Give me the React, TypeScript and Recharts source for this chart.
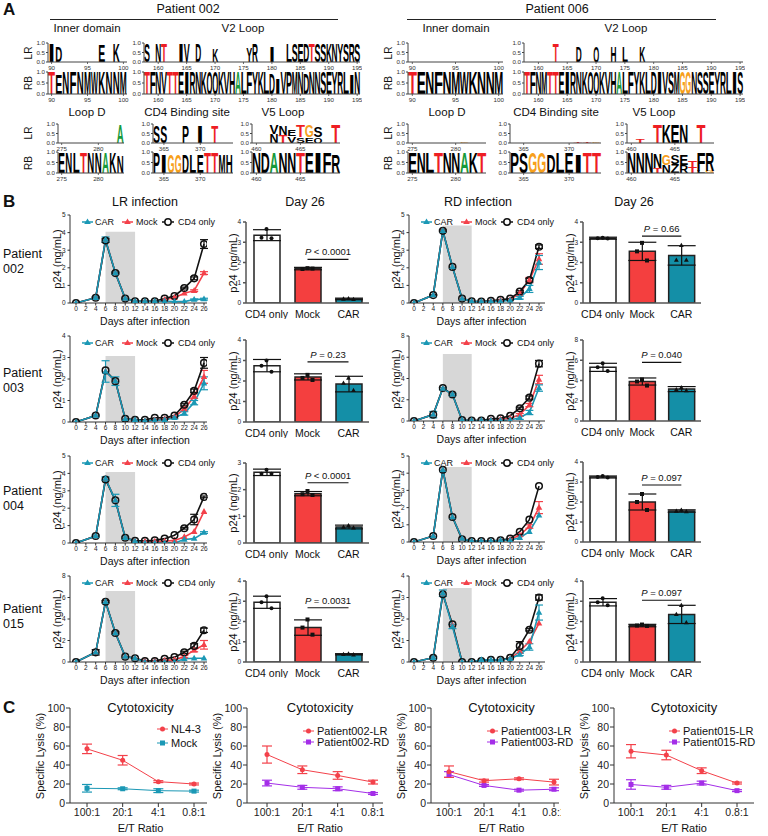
import React from "react";
import {
  BarChart,
  Bar,
  LineChart,
  Line,
  ComposedChart,
  XAxis,
  YAxis,
  ErrorBar,
  ReferenceArea,
  ReferenceLine,
  Cell,
} from "recharts";

const FONT = "Arial, 'Liberation Sans', Helvetica, sans-serif";
const TEAL = "#1b98b5";
const RED = "#f3414a";
const PURPLE = "#a42ee8";
const INK = "#111";
const AXIS = "#444";

// ---------- A: sequence logos (one letter + height per position) ----------
const in002LR = "ID     E K ";
const in002LRh = [0.95, 0.85, 0, 0, 0, 0, 0, 0.9, 0, 0.95, 0];
const in002RB = "TENFNMWKNNM";
const in002RBh = [1, 0.92, 1, 1, 1, 1, 1, 1, 1, 1, 1];
const in006LR = "           ";
const in006LRh = [0, 0, 0, 0, 0, 0, 0, 0, 0, 0, 0];
const in006RB = "TENFNMWKNNM";
const in006RBh = [1, 1, 1, 1, 1, 1, 1, 1, 1, 1, 1];

const v2002LR = "S NT  IV D  K     YR  I  LSEDTSSKNYSRS";
const v2002LRh = [0.95, 0, 0.95, 0.95, 0, 0, 0.95, 0.95, 0, 0.95, 0, 0, 0.7, 0, 0, 0, 0, 0, 0.75, 0.95, 0, 0, 0.85, 0, 0, 0.95, 0.95, 0.95, 0.95, 0.95, 0.95, 0.95, 0.95, 0.95, 0.95, 0.95, 0.95, 0.95];
const v2002RB = "TFNVTTEIRNKQQKVHALFYKLDIVPMNDNNSEYRLIN";
const v2002RBh = [1, 1, 1, 1, 1, 1, 1, 1, 1, 1, 1, 1, 1, 1, 1, 1, 1, 1, 1, 1, 1, 1, 0.95, 0.7, 1, 1, 1, 1, 0.95, 1, 1, 1, 1, 1, 1, 1, 0.9, 1];
const v2006LR = "     T   D  Q  H L  K                 ";
const v2006LRh = [0, 0, 0, 0, 0, 1, 0, 0, 0, 0.8, 0, 0, 0.8, 0, 0, 0.8, 0, 0.8, 0, 0, 0.8, 0, 0, 0, 0, 0, 0, 0, 0, 0, 0, 0, 0, 0, 0, 0, 0, 0];
const v2006RB = "TFNMTTEIRNKQQKVHALFYKLDIVSMGGNSSEYRLIS";
const v2006RBh = [1, 1, 1, 1, 1, 1, 1, 1, 1, 1, 1, 1, 1, 1, 1, 1, 1, 1, 1, 1, 1, 1, 1, 1, 1, 1, 1, 1, 1, 1, 1, 1, 1, 1, 1, 1, 1, 1];

const ld002LR = "        A";
const ld002LRh = [0, 0, 0, 0, 0, 0.04, 0, 0, 0.95];
const ld002RB = "ENLTNNAKN";
const ld002RBh = [1, 1, 1, 1, 1, 1, 1, 1, 0.8];
const ld006LR = "      G  ";
const ld006LRh = [0, 0, 0, 0, 0, 0, 0.03, 0, 0];
const ld006RB = "ENLTNNAKT";
const ld006RBh = [1, 1, 1, 1, 1, 1, 1, 1, 1];

const cd002LR = "SS  P I T  ";
const cd002LRh = [0.9, 0.9, 0, 0, 0.9, 0, 0.9, 0, 0.9, 0, 0];
const cd002RB = "PIGGDLETTMH";
const cd002RBh = [1, 0.85, 0.9, 0.9, 0.85, 0.9, 0.9, 1, 1, 0.85, 0.9];
const cd006LR = "       TTG";
const cd006LRh = [0, 0, 0, 0, 0, 0, 0, 0.05, 0.05, 0.04];
const cd006RB = "PSGGDLEITT";
const cd006RBh = [1, 1, 1, 1, 0.9, 1, 1, 0.9, 1, 1];

const v5002LR = "  VNETGS T";
const v5002LRh = [0, 0, 0.5, 0.5, 0.35, 0.6, 0.6, 0.55, 0, 1];
const v5002LRsub = "  NTVSEQ  ";
const v5002LRsubh = [0, 0, 0.45, 0.4, 0.35, 0.3, 0.3, 0.3, 0, 0];
const v5002RB = "NDANNTEIFR";
const v5002RBh = [1, 1, 1, 1, 1, 1, 1, 1, 1, 0.9];
const v5006LR = " T TKEN T ";
const v5006LRh = [0, 0.2, 0, 1, 1, 1, 1, 0, 1, 0];
const v5006RB = "NNNNGSETFR";
const v5006RBh = [1, 1, 1, 0.7, 0.5, 0.45, 0.5, 0.3, 0.85, 0.85];
const v5006RBsub = "   TNZRTLG";
const v5006RBsubh = [0, 0, 0, 0.25, 0.4, 0.45, 0.4, 0.3, 0.1, 0.1];

// ---------- B: p24 time courses ----------
const DAYS = [0, 4, 6, 8, 10, 12, 14, 16, 18, 20, 22, 24, 26];
const DAY_TICKS = [0, 2, 4, 6, 8, 10, 12, 14, 16, 18, 20, 22, 24, 26];
const NO_ERR = [0, 0, 0, 0, 0, 0, 0, 0, 0, 0, 0, 0, 0];

const lr002Car = [0, 0.3, 3.6, 1.7, 0.25, 0.1, 0.1, 0.1, 0.1, 0.08, 0.08, 0.2, 0.22];
const lr002CarE = [0, 0.05, 0.15, 0.05, 0.03, 0, 0, 0, 0, 0, 0, 0.03, 0.05];
const lr002Mock = [0, 0.3, 3.6, 1.7, 0.25, 0.1, 0.1, 0.1, 0.2, 0.3, 0.55, 0.7, 1.7];
const lr002MockE = [0, 0, 0, 0, 0, 0, 0, 0, 0, 0, 0, 0.05, 0.08];
const lr002Cd4 = [0, 0.3, 3.55, 1.7, 0.25, 0.1, 0.1, 0.1, 0.25, 0.4, 0.85, 1.4, 3.35];
const lr002Cd4E = [0, 0.03, 0.1, 0.05, 0, 0, 0, 0, 0, 0, 0.05, 0.08, 0.25];

const rd002Car = [0, 0.45, 4.1, 2.05, 0.25, 0.1, 0.08, 0.1, 0.1, 0.15, 0.3, 0.8, 2.3];
const rd002CarE = [0, 0, 0, 0, 0, 0, 0, 0, 0, 0, 0.08, 0.2, 0.4];
const rd002Mock = [0, 0.45, 4.1, 2.05, 0.25, 0.1, 0.08, 0.12, 0.15, 0.2, 0.55, 1.3, 2.5];
const rd002MockE = [0, 0, 0, 0, 0, 0, 0, 0, 0, 0, 0.05, 0.15, 0.3];
const rd002Cd4 = [0, 0.45, 4.1, 2.05, 0.25, 0.1, 0.08, 0.12, 0.18, 0.25, 0.65, 1.3, 3.2];
const rd002Cd4E = [0, 0.03, 0.05, 0, 0, 0, 0, 0, 0, 0, 0.05, 0.1, 0.1];

const lr003Car = [0, 0.3, 2.35, 1.9, 0.15, 0.1, 0.05, 0.08, 0.1, 0.2, 0.4, 0.9, 1.8];
const lr003CarE = [0, 0.03, 0.5, 0.2, 0, 0, 0, 0, 0, 0.05, 0.08, 0.1, 0.3];
const lr003Mock = [0, 0.3, 2.35, 1.9, 0.15, 0.1, 0.05, 0.1, 0.15, 0.25, 0.6, 1.2, 2.1];
const lr003MockE = [0, 0, 0, 0, 0, 0, 0, 0, 0, 0, 0.05, 0.1, 0.3];
const lr003Cd4 = [0, 0.3, 2.4, 1.9, 0.15, 0.1, 0.1, 0.2, 0.2, 0.3, 0.8, 1.45, 2.75];
const lr003Cd4E = [0, 0, 0, 0, 0, 0, 0, 0, 0, 0, 0.05, 0.08, 0.25];

const rd003Car = [0, 0.6, 3.05, 2.5, 0.1, 0.05, 0.05, 0.05, 0.05, 0.1, 0.3, 0.8, 3.1];
const rd003CarE = [0, 0.3, 0.1, 0.1, 0, 0, 0, 0, 0, 0, 0.15, 0.2, 0.3];
const rd003Mock = [0, 0.6, 3.05, 2.5, 0.1, 0.05, 0.05, 0.1, 0.15, 0.25, 0.6, 1.5, 3.9];
const rd003MockE = [0, 0, 0, 0, 0, 0, 0, 0, 0, 0, 0.1, 0.15, 0.4];
const rd003Cd4 = [0, 0.6, 3.1, 2.5, 0.1, 0.05, 0.05, 0.2, 0.25, 0.5, 1.2, 2.2, 5.4];
const rd003Cd4E = [0, 0, 0, 0, 0, 0, 0, 0, 0, 0, 0.1, 0.15, 0.3];

const lr004Car = [0, 0.4, 3.7, 2.45, 0.3, 0.1, 0, 0, 0, 0, 0.2, 0.25, 0.6];
const lr004CarE = [0, 0.05, 0.1, 0.35, 0.05, 0, 0, 0, 0, 0, 0, 0, 0.05];
const lr004Mock = [0, 0.4, 3.7, 2.45, 0.3, 0.1, 0.1, 0.1, 0.1, 0.15, 0.35, 0.65, 1.8];
const lr004Cd4 = [0, 0.4, 3.65, 2.45, 0.3, 0.12, 0.12, 0.15, 0.25, 0.45, 0.85, 1.35, 2.65];
const lr004Cd4E = [0, 0, 0, 0, 0, 0, 0, 0, 0, 0, 0.05, 0.3, 0.05];

const rd004Car = [0, 0.35, 4.2, 1.45, 0.2, 0.05, 0.05, 0.05, 0.1, 0.1, 0.25, 0.6, 1.55];
const rd004Mock = [0, 0.35, 4.2, 1.45, 0.2, 0.05, 0.05, 0.05, 0.1, 0.15, 0.4, 0.9, 2.0];
const rd004MockE = [0, 0, 0, 0, 0, 0, 0, 0, 0, 0, 0.05, 0.1, 0.35];
const rd004Cd4 = [0, 0.35, 4.2, 1.45, 0.15, 0.05, 0.05, 0.05, 0.1, 0.2, 0.6, 1.3, 3.25];

const lr015Car = [0, 0.9, 5.6, 2.7, 0.5, 0.35, 0, 0, 0, 0, 0.3, 0.35, 0.35];
const lr015Mock = [0, 0.9, 5.6, 2.7, 0.5, 0.35, 0.1, 0.1, 0.15, 0.2, 0.5, 1.1, 1.6];
const lr015MockE = [0, 0, 0, 0, 0, 0, 0, 0, 0, 0, 0.1, 0.15, 0.4];
const lr015Cd4 = [0, 0.9, 5.6, 2.7, 0.5, 0.35, 0.1, 0.1, 0.3, 0.45, 0.9, 1.5, 2.95];
const lr015Cd4E = [0, 0.25, 0.1, 0.1, 0, 0, 0, 0, 0, 0, 0.1, 0.2, 0.2];

const rd015Car = [0, 0.2, 3.2, 1.65, 0, 0, 0.1, 0.1, 0.1, 0.15, 0.35, 0.7, 2.3];
const rd015CarE = [0, 0.05, 0.15, 0.1, 0, 0, 0, 0, 0, 0, 0.05, 0.15, 0.35];
const rd015Mock = [0, 0.2, 3.2, 1.7, 0, 0, 0.05, 0.08, 0.1, 0.15, 0.5, 0.95, 1.8];
const rd015Cd4 = [0, 0.2, 3.15, 1.75, 0, 0, 0.05, 0.1, 0.1, 0.2, 0.75, 1.5, 3.0];
const rd015Cd4E = [0, 0, 0, 0, 0, 0, 0, 0, 0, 0, 0.2, 0.05, 0.12];

// ---------- B: day 26 bars (CD4 only, Mock, CAR) ----------
const GROUPS = ["CD4 only", "Mock", "CAR"];
const BAR_FILL = ["#ffffff", "#f43f3f", "#148fa7"];

const d26lr002 = [3.35, 1.7, 0.2];
const d26lr002sd = [0.27, 0.06, 0.04];
const d26lr002pts = [[3.65, 3.22, 3.2], [1.72, 1.68, 1.7], [0.22, 0.2, 0.18]];
const d26rd002 = [3.2, 2.55, 2.35];
const d26rd002sd = [0.05, 0.45, 0.48];
const d26rd002pts = [[3.22, 3.2, 3.18], [2.97, 2.55, 2.1], [2.85, 2.12, 2.12]];
const d26lr003 = [2.75, 2.2, 1.85];
const d26lr003sd = [0.3, 0.15, 0.38];
const d26lr003pts = [[3.0, 2.75, 2.45], [2.3, 2.15, 2.05], [2.15, 1.9, 1.55]];
const d26rd003 = [5.3, 3.9, 3.15];
const d26rd003sd = [0.4, 0.35, 0.25];
const d26rd003pts = [[5.7, 5.3, 4.95], [4.1, 3.9, 3.5], [3.3, 3.1, 3.0]];
const d26lr004 = [2.65, 1.85, 0.6];
const d26lr004sd = [0.12, 0.08, 0.07];
const d26lr004pts = [[2.75, 2.6, 2.6], [1.95, 1.83, 1.8], [0.65, 0.6, 0.57]];
const d26rd004 = [3.25, 2.0, 1.55];
const d26rd004sd = [0.05, 0.4, 0.06];
const d26rd004pts = [[3.3, 3.25, 3.22], [2.4, 2.0, 1.6], [1.6, 1.55, 1.52]];
const d26lr015 = [2.95, 1.7, 0.38];
const d26lr015sd = [0.3, 0.38, 0.03];
const d26lr015pts = [[3.25, 2.95, 2.65], [2.1, 1.7, 1.35], [0.4, 0.38, 0.36]];
const d26rd015 = [2.95, 1.8, 2.35];
const d26rd015sd = [0.18, 0.06, 0.45];
const d26rd015pts = [[3.15, 2.95, 2.8], [1.85, 1.8, 1.78], [2.8, 2.35, 1.95]];

// ---------- C: cytotoxicity ----------
const ET = ["100:1", "20:1", "4:1", "0.8:1"];
const nl43 = [57, 45, 22.5, 20];
const nl43E = [5, 5, 1, 1];
const mockC = [15.5, 15, 13, 12.5];
const mockCE = [4, 1, 2, 1];
const p002LR = [51, 35, 29, 22];
const p002LRE = [9, 4, 4, 2];
const p002RD = [21, 16.5, 15, 10];
const p002RDE = [3, 2, 2, 1];
const p003LR = [33, 23.5, 25.5, 22];
const p003LRE = [6, 1.5, 1, 3];
const p003RD = [30, 18.5, 13.5, 14.5];
const p003RDE = [3, 1, 1, 1.5];
const p015LR = [54.5, 50.5, 34, 21];
const p015LRE = [7, 5, 3, 1];
const p015RD = [19.5, 16.5, 21, 13];
const p015RDE = [5, 2, 2, 1];

// ---------- helpers ----------
function Txt({ x, y, size = 11, children, rot = 0, weight = 400, anchor = "middle" }: any) {
  const tx = anchor === "middle" ? "-50%" : anchor === "start" ? "0%" : "-100%";
  return (
    <div
      style={{
        position: "absolute",
        left: x,
        top: y,
        fontSize: size,
        fontWeight: weight,
        lineHeight: 1,
        whiteSpace: "nowrap",
        transform: `translate(${tx},-50%) rotate(${rot}deg)`,
      }}
    >
      {children}
    </div>
  );
}

function letterColor(c: string) {
  if (c === "T") return "#ee1d23";
  if (c === "G") return "#f7a01c";
  if (c === "A") return "#179a3b";
  if (c === "C") return "#1f4fd1";
  return "#000";
}

function Glyph(p: any) {
  const { x, y, width, height, payload, k } = p;
  const ch = payload ? payload[k] : " ";
  if (!ch || ch === " " || !height || height < 0.4) return <g />;
  return (
    <text
      x={x}
      y={y + height}
      fontSize={height / 0.716}
      textLength={width}
      lengthAdjust="spacingAndGlyphs"
      fontWeight="bold"
      fill={letterColor(ch)}
    >
      {ch}
    </text>
  );
}

// position ticks for the logos: label only every 5th residue
function LogoXTick(p: any) {
  const { x, y, payload } = p;
  const v = Number(payload && payload.value);
  if (v % 5 !== 0) return <g />;
  return (
    <g>
      <line x1={x} x2={x} y1={y - 2} y2={y} stroke={AXIS} strokeWidth={0.8} />
      <text x={x} y={y + 5.5} textAnchor="middle" fontSize={6.2} fill="#333">
        {v}
      </text>
    </g>
  );
}

function LogoYTick(p: any) {
  const { x, y, payload } = p;
  const v = Number(payload && payload.value);
  return (
    <text x={x} y={y + 2.2} textAnchor="end" fontSize={6.2} fill="#333">
      {v.toFixed(1)}
    </text>
  );
}

function Logo({ x, y, w, h, start, seq, hts, sub, subh }: any) {
  const rows = seq.split("").map((c: string, i: number) => ({
    pos: start + i,
    mc: c,
    main: hts[i],
    sc: sub ? sub[i] : " ",
    sub: subh ? subh[i] : 0,
  }));
  const YW = 18;
  const MT = 4;
  const XH = 9;
  return (
    <div style={{ position: "absolute", left: x - YW, top: y - MT }}>
      <BarChart
        width={YW + w + 2}
        height={MT + h + XH}
        data={rows}
        margin={{ top: MT, right: 2, bottom: 0, left: 0 }}
        barCategoryGap={0}
        barGap={0}
      >
        <XAxis
          dataKey="pos"
          height={XH}
          interval={0}
          tickLine={false}
          tickSize={2}
          tickMargin={0}
          tick={(p: any) => <LogoXTick {...p} />}
          stroke={AXIS}
        />
        <YAxis
          width={YW}
          domain={[0, 1]}
          ticks={[0, 0.5, 1]}
          interval={0}
          tickSize={2}
          tickMargin={1}
          tick={(p: any) => <LogoYTick {...p} />}
          stroke={AXIS}
          allowDataOverflow
        />
        <Bar dataKey="sub" stackId="s" isAnimationActive={false} shape={(p: any) => <Glyph {...p} k="sc" />} />
        <Bar dataKey="main" stackId="s" isAnimationActive={false} shape={(p: any) => <Glyph {...p} k="mc" />} />
      </BarChart>
    </div>
  );
}

const triDot = (color: string, s = 1) => (p: any) => {
  const { cx, cy, index } = p;
  if (cx == null || cy == null) return <g key={`t${index}`} />;
  return (
    <path
      key={`t${index}`}
      d={`M${cx},${cy - 3.6 * s}L${cx + 3.3 * s},${cy + 2.2 * s}L${cx - 3.3 * s},${cy + 2.2 * s}Z`}
      fill={color}
    />
  );
};
const ringDot = (p: any) => {
  const { cx, cy, index } = p;
  if (cx == null || cy == null) return <g key={`r${index}`} />;
  return <circle key={`r${index}`} cx={cx} cy={cy} r={3.3} fill="none" stroke="#111" strokeWidth={1.5} />;
};
const circDot = (color: string) => (p: any) => {
  const { cx, cy, index } = p;
  if (cx == null || cy == null) return <g key={`c${index}`} />;
  return <circle key={`c${index}`} cx={cx} cy={cy} r={2.5} fill={color} />;
};
const sqDot = (color: string) => (p: any) => {
  const { cx, cy, index } = p;
  if (cx == null || cy == null) return <g key={`s${index}`} />;
  return <rect key={`s${index}`} x={cx - 2.5} y={cy - 2.5} width={5} height={5} fill={color} />;
};
const ptDot = (dx: number) => (p: any) => {
  const { cx, cy, index } = p;
  if (cx == null || cy == null) return <g key={`p${index}`} />;
  const x = cx + dx;
  if (index === 0) return <circle key={`p${index}`} cx={x} cy={cy} r={2} fill="#111" />;
  if (index === 1) return <rect key={`p${index}`} x={x - 2} y={cy - 2} width={4} height={4} fill="#111" />;
  return <path key={`p${index}`} d={`M${x},${cy - 2.6}L${x + 2.4},${cy + 1.7}L${x - 2.4},${cy + 1.7}Z`} fill="#111" />;
};

function InfLegend({ x, y }: any) {
  return (
    <svg style={{ position: "absolute", left: x, top: y - 6 }} width={150} height={12}>
      <line x1={7} x2={18} y1={6} y2={6} stroke={TEAL} strokeWidth={1.5} />
      <path d="M12.5,2.4L15.8,8L9.2,8Z" fill={TEAL} />
      <text x={20} y={9} fontSize={9} fill="#111">CAR</text>
      <line x1={47} x2={58} y1={6} y2={6} stroke={RED} strokeWidth={1.5} />
      <path d="M52.5,2.4L55.8,8L49.2,8Z" fill={RED} />
      <text x={61} y={9} fontSize={9} fill="#111">Mock</text>
      <line x1={87} x2={99} y1={6} y2={6} stroke="#111" strokeWidth={1.5} />
      <circle cx={93} cy={6} r={3.2} fill="#fff" stroke="#111" strokeWidth={1.5} />
      <text x={103} y={9} fontSize={9} fill="#111">CD4 only</text>
    </svg>
  );
}

function Infection({ left, right, p0, p26, top, bottom, ymax, yticks, shade, car, carE, mock, mockE, cd4, cd4E }: any) {
  const s = (p26 - p0) / 26;
  const dmin = (left - p0) / s;
  const dmax = 26 + (right - p26) / s;
  const rows = DAYS.map((d, i) => ({
    day: d,
    car: car[i],
    carE: carE[i],
    mock: mock[i],
    mockE: mockE[i],
    cd4: cd4[i],
    cd4E: cd4E[i],
  }));
  const YW = 16;
  const MT = 4;
  const XH = 11;
  const h = bottom - top;
  return (
    <>
      <div style={{ position: "absolute", left: left - YW, top: top - MT }}>
        <LineChart width={YW + (right - left) + 3} height={MT + h + XH} data={rows} margin={{ top: MT, right: 3, bottom: 0, left: 0 }}>
          <ReferenceArea x1={6} x2={12} y1={0} y2={shade} fill="#d7d7d7" fillOpacity={1} stroke="none" />
          <XAxis
            type="number"
            dataKey="day"
            domain={[dmin, dmax]}
            ticks={DAY_TICKS}
            interval={0}
            allowDataOverflow
            height={XH}
            tick={{ fontSize: 6.5, fill: "#222" }}
            tickSize={2.5}
            tickMargin={1}
            stroke="#333"
          />
          <YAxis
            width={YW}
            domain={[0, ymax]}
            ticks={yticks}
            interval={0}
            allowDataOverflow
            tick={{ fontSize: 6.5, fill: "#222" }}
            tickSize={2.5}
            stroke="#333"
          />
          <Line dataKey="mock" stroke={RED} strokeWidth={1.6} dot={triDot(RED)} isAnimationActive={false}>
            <ErrorBar dataKey="mockE" width={4} stroke={RED} strokeWidth={1.2} direction="y" />
          </Line>
          <Line dataKey="cd4" stroke="#111" strokeWidth={1.6} dot={ringDot} isAnimationActive={false}>
            <ErrorBar dataKey="cd4E" width={4} stroke="#111" strokeWidth={1.2} direction="y" />
          </Line>
          <Line dataKey="car" stroke={TEAL} strokeWidth={1.6} dot={triDot(TEAL)} isAnimationActive={false}>
            <ErrorBar dataKey="carE" width={4} stroke={TEAL} strokeWidth={1.2} direction="y" />
          </Line>
        </LineChart>
      </div>
      <InfLegend x={left + 5} y={top + 7} />
      <Txt x={left - 13} y={(top + bottom) / 2} size={11} rot={-90}>p24 (ng/mL)</Txt>
      <Txt x={(p0 + p26) / 2 + 5} y={bottom + 18} size={10.5}>Days after infection</Txt>
    </>
  );
}

function PLabel(props: any) {
  const { viewBox, txt } = props;
  if (!viewBox) return null;
  const x = viewBox.x + (viewBox.width || 0) / 2;
  const y = viewBox.y - 4;
  return (
    <text x={x} y={y} textAnchor="middle" fontSize={9.5} fill="#111">
      <tspan fontStyle="italic">P</tspan>
      {" " + txt}
    </text>
  );
}

function Day26({ left, w, top, bottom, ymax, yticks, means, sd, pts, pY, pTxt }: any) {
  const rows = GROUPS.map((g, i) => ({
    name: g,
    mean: means[i],
    err: sd[i],
    p1: pts[i][0],
    p2: pts[i][1],
    p3: pts[i][2],
  }));
  const YW = 18;
  const MT = 4;
  const XH = 16;
  const h = bottom - top;
  return (
    <>
      <div style={{ position: "absolute", left: left - YW, top: top - MT }}>
        <ComposedChart width={YW + w + 2} height={MT + h + XH} data={rows} margin={{ top: MT, right: 2, bottom: 0, left: 0 }}>
          <XAxis dataKey="name" height={XH} tickLine={false} tick={{ fontSize: 10.5, fill: "#111" }} tickMargin={2} stroke="#555" strokeWidth={1.5} />
          <YAxis
            width={YW}
            domain={[0, ymax]}
            ticks={yticks}
            interval={0}
            allowDataOverflow
            tick={{ fontSize: 6.5, fill: "#222" }}
            tickSize={3}
            stroke="#555"
            strokeWidth={1.5}
          />
          <Bar dataKey="mean" barSize={26} stroke="#222" strokeWidth={1.5} isAnimationActive={false}>
            {rows.map((_, i) => (
              <Cell key={i} fill={BAR_FILL[i]} />
            ))}
            <ErrorBar dataKey="err" width={14} stroke="#111" strokeWidth={1.2} direction="y" />
          </Bar>
          <Line dataKey="p1" stroke="none" dot={ptDot(0)} activeDot={false} isAnimationActive={false} />
          <Line dataKey="p2" stroke="none" dot={ptDot(-5)} activeDot={false} isAnimationActive={false} />
          <Line dataKey="p3" stroke="none" dot={ptDot(5)} activeDot={false} isAnimationActive={false} />
          <ReferenceLine
            segment={[
              { x: "Mock", y: pY },
              { x: "CAR", y: pY },
            ]}
            stroke="#111"
            strokeWidth={1.2}
            label={<PLabel txt={pTxt} />}
          />
        </ComposedChart>
      </div>
      <Txt x={left - 13} y={(top + bottom) / 2} size={11} rot={-90}>p24 (ng/mL)</Txt>
    </>
  );
}

function Cyto({ left, right, p0, p3, a, aE, b, bE, aName, bName, aColor, bColor, aSq, bSq, legX, legY }: any) {
  const s = (p3 - p0) / 3;
  const dmin = (left - p0) / s;
  const dmax = 3 + (right - p3) / s;
  const rows = ET.map((_, i) => ({ i, a: a[i], aE: aE[i], b: b[i], bE: bE[i] }));
  const top = 708;
  const bottom = 803;
  const YW = 24;
  const MT = 4;
  const XH = 18;
  const mk = (sq: boolean, color: string, cx: number, cy: number) =>
    sq ? <rect x={cx - 2.5} y={cy - 2.5} width={5} height={5} fill={color} /> : <circle cx={cx} cy={cy} r={2.5} fill={color} />;
  return (
    <>
      <div style={{ position: "absolute", left: left - YW, top: top - MT }}>
        <LineChart width={YW + (right - left) + 2} height={MT + (bottom - top) + XH} data={rows} margin={{ top: MT, right: 2, bottom: 0, left: 0 }}>
          <XAxis
            type="number"
            dataKey="i"
            domain={[dmin, dmax]}
            ticks={[0, 1, 2, 3]}
            interval={0}
            allowDataOverflow
            tickFormatter={(v: number) => ET[v]}
            height={XH}
            tick={{ fontSize: 10.5, fill: "#222" }}
            tickSize={4}
            stroke="#333"
          />
          <YAxis
            width={YW}
            domain={[0, 100]}
            ticks={[0, 20, 40, 60, 80, 100]}
            interval={0}
            allowDataOverflow
            tick={{ fontSize: 10.5, fill: "#222" }}
            tickSize={4}
            tickMargin={1}
            stroke="#333"
          />
          <Line dataKey="b" stroke={bColor} strokeWidth={1} dot={bSq ? sqDot(bColor) : circDot(bColor)} isAnimationActive={false}>
            <ErrorBar dataKey="bE" width={5} stroke={bColor} strokeWidth={1.2} direction="y" />
          </Line>
          <Line dataKey="a" stroke={aColor} strokeWidth={1} dot={aSq ? sqDot(aColor) : circDot(aColor)} isAnimationActive={false}>
            <ErrorBar dataKey="aE" width={5} stroke={aColor} strokeWidth={1.2} direction="y" />
          </Line>
        </LineChart>
      </div>
      <svg style={{ position: "absolute", left: legX, top: legY[0] - 6 }} width={14} height={legY[1] - legY[0] + 12}>
        <line x1={1} x2={12} y1={6} y2={6} stroke={aColor} strokeWidth={1} />
        {mk(aSq, aColor, 6.5, 6)}
        <line x1={1} x2={12} y1={legY[1] - legY[0] + 6} y2={legY[1] - legY[0] + 6} stroke={bColor} strokeWidth={1} />
        {mk(bSq, bColor, 6.5, legY[1] - legY[0] + 6)}
      </svg>
      <Txt x={legX + 15} y={legY[0]} size={11} anchor="start">{aName}</Txt>
      <Txt x={legX + 15} y={legY[1]} size={11} anchor="start">{bName}</Txt>
      <Txt x={(p0 + p3) / 2} y={707} size={13}>Cytotoxicity</Txt>
      <Txt x={left - 30} y={756} size={11} rot={-90}>Specific Lysis (%)</Txt>
      <Txt x={(p0 + p3) / 2} y={828} size={11}>E/T Ratio</Txt>
    </>
  );
}

// ---------- layout configs ----------
const LR_X = { left: 70, right: 207, p0: 76, p26: 204 };
const RD_X = { left: 409, right: 545, p0: 414, p26: 539 };

const ROWS = [
  {
    name: "002",
    labelY: 262,
    lr: { top: 215, bottom: 303, ymax: 5, yticks: [0, 1, 2, 3, 4, 5], shade: 4.05, car: lr002Car, carE: lr002CarE, mock: lr002Mock, mockE: lr002MockE, cd4: lr002Cd4, cd4E: lr002Cd4E },
    rd: { top: 215, bottom: 303, ymax: 5, yticks: [0, 1, 2, 3, 4, 5], shade: 4.4, car: rd002Car, carE: rd002CarE, mock: rd002Mock, mockE: rd002MockE, cd4: rd002Cd4, cd4E: rd002Cd4E },
    lrBar: { top: 222, bottom: 303, ymax: 4, yticks: [0, 1, 2, 3, 4], means: d26lr002, sd: d26lr002sd, pts: d26lr002pts, pY: 2.15, pTxt: "< 0.0001" },
    rdBar: { top: 222, bottom: 303, ymax: 4, yticks: [0, 1, 2, 3, 4], means: d26rd002, sd: d26rd002sd, pts: d26rd002pts, pY: 3.3, pTxt: "= 0.66" },
  },
  {
    name: "003",
    labelY: 381,
    lr: { top: 336, bottom: 422, ymax: 4, yticks: [0, 1, 2, 3, 4], shade: 3.07, car: lr003Car, carE: lr003CarE, mock: lr003Mock, mockE: lr003MockE, cd4: lr003Cd4, cd4E: lr003Cd4E },
    rd: { top: 336, bottom: 421, ymax: 8, yticks: [0, 2, 4, 6, 8], shade: 6.3, car: rd003Car, carE: rd003CarE, mock: rd003Mock, mockE: rd003MockE, cd4: rd003Cd4, cd4E: rd003Cd4E },
    lrBar: { top: 340, bottom: 422, ymax: 4, yticks: [0, 1, 2, 3, 4], means: d26lr003, sd: d26lr003sd, pts: d26lr003pts, pY: 2.93, pTxt: "= 0.23" },
    rdBar: { top: 340, bottom: 421, ymax: 8, yticks: [0, 2, 4, 6, 8], means: d26rd003, sd: d26rd003sd, pts: d26rd003pts, pY: 5.8, pTxt: "= 0.040" },
  },
  {
    name: "004",
    labelY: 499,
    lr: { top: 456, bottom: 543, ymax: 5, yticks: [0, 1, 2, 3, 4, 5], shade: 4.08, car: lr004Car, carE: lr004CarE, mock: lr004Mock, mockE: NO_ERR, cd4: lr004Cd4, cd4E: lr004Cd4E },
    rd: { top: 456, bottom: 542, ymax: 5, yticks: [0, 1, 2, 3, 4, 5], shade: 4.36, car: rd004Car, carE: NO_ERR, mock: rd004Mock, mockE: rd004MockE, cd4: rd004Cd4, cd4E: NO_ERR },
    lrBar: { top: 463, bottom: 543, ymax: 3, yticks: [0, 1, 2, 3], means: d26lr004, sd: d26lr004sd, pts: d26lr004pts, pY: 2.26, pTxt: "< 0.0001" },
    rdBar: { top: 462, bottom: 542, ymax: 4, yticks: [0, 1, 2, 3, 4], means: d26rd004, sd: d26rd004sd, pts: d26rd004pts, pY: 2.85, pTxt: "= 0.097" },
  },
  {
    name: "015",
    labelY: 617,
    lr: { top: 576, bottom: 662, ymax: 8, yticks: [0, 2, 4, 6, 8], shade: 6.6, car: lr015Car, carE: NO_ERR, mock: lr015Mock, mockE: lr015MockE, cd4: lr015Cd4, cd4E: lr015Cd4E },
    rd: { top: 576, bottom: 662, ymax: 4, yticks: [0, 1, 2, 3, 4], shade: 3.44, car: rd015Car, carE: rd015CarE, mock: rd015Mock, mockE: NO_ERR, cd4: rd015Cd4, cd4E: rd015Cd4E },
    lrBar: { top: 581, bottom: 662, ymax: 4, yticks: [0, 1, 2, 3, 4], means: d26lr015, sd: d26lr015sd, pts: d26lr015pts, pY: 2.68, pTxt: "= 0.0031" },
    rdBar: { top: 581, bottom: 662, ymax: 4, yticks: [0, 1, 2, 3, 4], means: d26rd015, sd: d26rd015sd, pts: d26rd015pts, pY: 3.05, pTxt: "= 0.097" },
  },
];

const LOGOS = [
  // patient 002
  { x: 48, y: 43, w: 79, h: 19, start: 90, seq: in002LR, hts: in002LRh },
  { x: 48, y: 72, w: 79, h: 22, start: 90, seq: in002RB, hts: in002RBh },
  { x: 144, y: 43, w: 216, h: 19, start: 158, seq: v2002LR, hts: v2002LRh },
  { x: 144, y: 72, w: 216, h: 22, start: 158, seq: v2002RB, hts: v2002RBh },
  { x: 58, y: 124, w: 66, h: 19, start: 275, seq: ld002LR, hts: ld002LRh },
  { x: 58, y: 152, w: 66, h: 21, start: 275, seq: ld002RB, hts: ld002RBh },
  { x: 153, y: 124, w: 80, h: 19, start: 364, seq: cd002LR, hts: cd002LRh },
  { x: 153, y: 152, w: 80, h: 21, start: 364, seq: cd002RB, hts: cd002RBh },
  { x: 252, y: 124, w: 88, h: 19, start: 460, seq: v5002LR, hts: v5002LRh, sub: v5002LRsub, subh: v5002LRsubh },
  { x: 252, y: 152, w: 88, h: 21, start: 460, seq: v5002RB, hts: v5002RBh },
  // patient 006
  { x: 408, y: 43, w: 95, h: 19, start: 90, seq: in006LR, hts: in006LRh },
  { x: 408, y: 72, w: 95, h: 22, start: 90, seq: in006RB, hts: in006RBh },
  { x: 524, y: 43, w: 219, h: 19, start: 158, seq: v2006LR, hts: v2006LRh },
  { x: 524, y: 72, w: 219, h: 22, start: 158, seq: v2006RB, hts: v2006RBh },
  { x: 408, y: 124, w: 78, h: 19, start: 275, seq: ld006LR, hts: ld006LRh },
  { x: 408, y: 152, w: 78, h: 21, start: 275, seq: ld006RB, hts: ld006RBh },
  { x: 510, y: 124, w: 91, h: 19, start: 364, seq: cd006LR, hts: cd006LRh },
  { x: 510, y: 152, w: 91, h: 21, start: 364, seq: cd006RB, hts: cd006RBh },
  { x: 627, y: 124, w: 87, h: 19, start: 460, seq: v5006LR, hts: v5006LRh },
  { x: 627, y: 152, w: 87, h: 21, start: 460, seq: v5006RB, hts: v5006RBh, sub: v5006RBsub, subh: v5006RBsubh },
];

const LOGO_TITLES = [
  { x: 87, y: 29, t: "Inner domain" },
  { x: 243, y: 29, t: "V2 Loop" },
  { x: 87, y: 113, t: "Loop D" },
  { x: 187, y: 113, t: "CD4 Binding site" },
  { x: 283, y: 113, t: "V5 Loop" },
  { x: 456, y: 29, t: "Inner domain" },
  { x: 626, y: 29, t: "V2 Loop" },
  { x: 447, y: 113, t: "Loop D" },
  { x: 556, y: 113, t: "CD4 Binding site" },
  { x: 654, y: 113, t: "V5 Loop" },
];

const CYTO = [
  { left: 70, right: 207, p0: 87, p3: 194, a: nl43, aE: nl43E, b: mockC, bE: mockCE, aName: "NL4-3", bName: "Mock", aColor: RED, bColor: TEAL, aSq: false, bSq: true, legX: 156, legY: [729, 743] },
  { left: 247, right: 383, p0: 267, p3: 373, a: p002LR, aE: p002LRE, b: p002RD, bE: p002RDE, aName: "Patient002-LR", bName: "Patient002-RD", aColor: RED, bColor: PURPLE, aSq: false, bSq: true, legX: 302, legY: [731, 742] },
  { left: 431, right: 559, p0: 449, p3: 554, a: p003LR, aE: p003LRE, b: p003RD, bE: p003RDE, aName: "Patient003-LR", bName: "Patient003-RD", aColor: RED, bColor: PURPLE, aSq: false, bSq: true, legX: 486, legY: [731, 742] },
  { left: 614, right: 754, p0: 631, p3: 737, a: p015LR, aE: p015LRE, b: p015RD, bE: p015RDE, aName: "Patient015-LR", bName: "Patient015-RD", aColor: RED, bColor: PURPLE, aSq: false, bSq: true, legX: 668, legY: [731, 742] },
];

export default function App() {
  return (
    <div
      style={{
        position: "absolute",
        left: 0,
        top: 0,
        width: 768,
        height: 836,
        background: "#fff",
        fontFamily: FONT,
        color: INK,
        overflow: "hidden",
      }}
    >
      {/* panel A */}
      <Txt x={3} y={9} size={17} weight={700} anchor="start">A</Txt>
      <Txt x={188} y={9} size={12.5}>Patient 002</Txt>
      <Txt x={557} y={9} size={12.5}>Patient 006</Txt>
      <div style={{ position: "absolute", left: 50, top: 19, width: 288, height: 1, background: "#222" }} />
      <div style={{ position: "absolute", left: 407, top: 19, width: 309, height: 1, background: "#222" }} />
      {LOGO_TITLES.map((t, i) => (
        <Txt key={i} x={t.x} y={t.y} size={11.5}>{t.t}</Txt>
      ))}
      {[29, 389].map((lx) => (
        <React.Fragment key={lx}>
          <Txt x={lx} y={53} size={10} rot={-90}>LR</Txt>
          <Txt x={lx} y={83} size={10} rot={-90}>RB</Txt>
          <Txt x={lx} y={133} size={10} rot={-90}>LR</Txt>
          <Txt x={lx} y={163} size={10} rot={-90}>RB</Txt>
        </React.Fragment>
      ))}
      {LOGOS.map((l, i) => (
        <Logo key={i} {...l} />
      ))}

      {/* panel B */}
      <Txt x={3} y={201} size={17} weight={700} anchor="start">B</Txt>
      <Txt x={145} y={202} size={12.5}>LR infection</Txt>
      <Txt x={305} y={202} size={12.5}>Day 26</Txt>
      <Txt x={478} y={202} size={12.5}>RD infection</Txt>
      <Txt x={634} y={202} size={12.5}>Day 26</Txt>
      {ROWS.map((r) => (
        <React.Fragment key={r.name}>
          <Txt x={3} y={r.labelY - 8} size={12.5} anchor="start">Patient</Txt>
          <Txt x={3} y={r.labelY + 7} size={12.5} anchor="start">{r.name}</Txt>
          <Infection {...LR_X} {...r.lr} />
          <Infection {...RD_X} {...r.rd} />
          <Day26 left={246} w={123} {...r.lrBar} />
          <Day26 left={583} w={118} {...r.rdBar} />
        </React.Fragment>
      ))}

      {/* panel C */}
      <Txt x={3} y={707} size={17} weight={700} anchor="start">C</Txt>
      {CYTO.map((c, i) => (
        <Cyto key={i} {...c} />
      ))}
    </div>
  );
}
